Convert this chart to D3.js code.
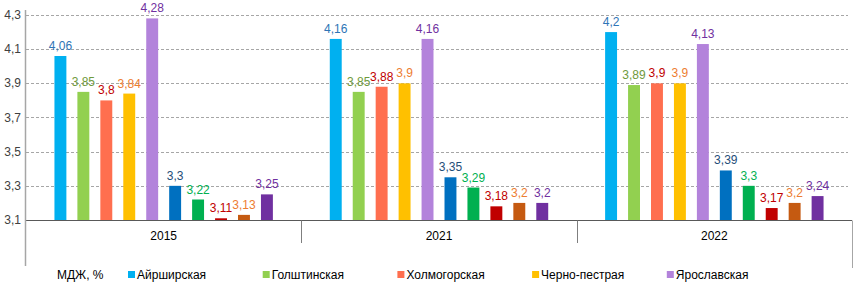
<!DOCTYPE html>
<html>
<head>
<meta charset="utf-8">
<script src="https://cdn.jsdelivr.net/npm/d3@7"></script>
<style>
  body { margin: 0; background: #fff; }
  svg { display: block; font-family: "Liberation Sans Narrow", "Liberation Sans", Arial, sans-serif; }
</style>
</head>
<body>
<div id="chart"></div>
<script>
// years on the x axis
const years = ['2015', '2021', '2022']

// breeds (legend)
const breeds = ['Айрширская', 'Голштинская', 'Холмогорская', 'Черно-пестрая', 'Ярославская']

// fat content, % (МДЖ) by year, breed order as above
const fat = [
    [4.06, 3.85, 3.8, 3.84, 4.28],
    [4.16, 3.85, 3.88, 3.9, 4.16],
    [4.2, 3.89, 3.9, 3.9, 4.13]
]

// protein content, % (second set of bars) by year
const protein = [
    [3.3, 3.22, 3.11, 3.13, 3.25],
    [3.35, 3.29, 3.18, 3.2, 3.2],
    [3.39, 3.3, 3.17, 3.2, 3.24]
]

const yTicks = [3.1, 3.3, 3.5, 3.7, 3.9, 4.1, 4.3]

const fatColors = ['#00b0f0', '#92d050', '#ff6f4f', '#ffc000', '#b383db']
const proteinColors = ['#0070c0', '#00b050', '#c00000', '#c55a11', '#7030a0']
const fatLabelColors = ['#2e75b6', '#6f9a3c', '#c00000', '#ed7d31', '#7030a0']
const proteinLabelColors = ['#1f4e79', '#00b050', '#c00000', '#ed7d31', '#7030a0']

const width = 854, height = 284
const margin = {left: 26, right: 2, top: 15, bottom: 64}

const svg = d3.select('#chart').append('svg')
    .attr('width', width)
    .attr('height', height)

const y = d3.scaleLinear()
    .domain([3.1, 4.3])
    .range([height - margin.bottom, margin.top])

const x0 = d3.scaleBand()
    .domain(years)
    .range([margin.left, width - margin.right])

// 10 bars per year: fat series then protein series
const seriesKeys = d3.range(10)
const x1 = d3.scaleBand()
    .domain(seriesKeys)
    .range([0, x0.bandwidth()])
    .paddingInner(0.48)
    .paddingOuter(1.24)

const fmt = v => String(v).replace('.', ',')

//-------------------------------------------------------------
// grid
svg.append('g')
    .selectAll('line')
    .data(yTicks.filter(d => d > 3.1))
    .enter()
        .append('line')
        .attr('x1', margin.left)
        .attr('x2', width - margin.right - 4)
        .attr('y1', d => Math.round(y(d)) + 0.5)
        .attr('y2', d => Math.round(y(d)) + 0.5)
        .style('stroke', '#a6a6a6')
        .style('stroke-dasharray', '3,2')

// y tick labels
svg.append('g')
    .selectAll('text')
    .data(yTicks)
    .enter()
        .append('text')
        .attr('x', 21)
        .attr('y', d => y(d) + 4)
        .attr('text-anchor', 'end')
        .style('font-size', '12px')
        .style('fill', '#404040')
        .text(fmt)

//-------------------------------------------------------------
// bars
const rows = years.map((yr, i) => ({
    year: yr,
    values: fat[i].map((v, j) => ({k: j, v: v, fill: fatColors[j], lc: fatLabelColors[j]}))
        .concat(protein[i].map((v, j) => ({k: j + 5, v: v, fill: proteinColors[j], lc: proteinLabelColors[j]})))
}))

const groups = svg.append('g')
    .selectAll('g')
    .data(rows)
    .enter()
        .append('g')
        .attr('transform', d => `translate(${x0(d.year)},0)`)

groups.selectAll('rect')
    .data(d => d.values)
    .enter()
        .append('rect')
        .attr('x', d => x1(d.k))
        .attr('y', d => y(d.v))
        .attr('width', x1.bandwidth())
        .attr('height', d => y(3.1) - y(d.v))
        .style('fill', d => d.fill)

groups.selectAll('text')
    .data(d => d.values)
    .enter()
        .append('text')
        .attr('x', d => x1(d.k) + x1.bandwidth() / 2)
        .attr('y', d => y(d.v) - 6)
        .attr('text-anchor', 'middle')
        .style('font-size', '12px')
        .style('fill', d => d.lc)
        .text(d => fmt(d.v))

//-------------------------------------------------------------
// axes lines
const base = Math.round(y(3.1)) + 0.5

svg.append('line')
    .attr('x1', margin.left).attr('x2', width - margin.right)
    .attr('y1', base).attr('y2', base)
    .style('stroke', '#595959')

svg.append('line')
    .attr('x1', margin.left - 0.5).attr('x2', margin.left - 0.5)
    .attr('y1', 10).attr('y2', 266)
    .style('stroke', '#a6a6a6')
    .style('stroke-width', 1.5)

svg.append('line')
    .attr('x1', width - 1.5).attr('x2', width - 1.5)
    .attr('y1', base).attr('y2', 268)
    .style('stroke', '#a6a6a6')

svg.append('g')
    .selectAll('line')
    .data(years.slice(1))
    .enter()
        .append('line')
        .attr('x1', d => Math.round(x0(d)) + 0.5)
        .attr('x2', d => Math.round(x0(d)) + 0.5)
        .attr('y1', base)
        .attr('y2', 243)
        .style('stroke', '#7f7f7f')

svg.append('g')
    .selectAll('text')
    .data(years)
    .enter()
        .append('text')
        .attr('x', d => x0(d) + x0.bandwidth() / 2)
        .attr('y', 240)
        .attr('text-anchor', 'middle')
        .style('font-size', '12px')
        .style('fill', '#000')
        .text(d => d)

//-------------------------------------------------------------
// legend
const legend = svg.append('g')
    .attr('transform', 'translate(0, 279)')

legend.append('text')
    .attr('x', 57)
    .attr('y', 0)
    .style('font-size', '12px')
    .style('fill', '#000')
    .text('МДЖ, %')

const item = legend.selectAll('g.item')
    .data(breeds)
    .enter()
        .append('g')
        .attr('class', 'item')
        .attr('transform', (d, i) => `translate(${128 + i * 134.7}, 0)`)

item.append('rect')
    .attr('x', 0)
    .attr('y', -8)
    .attr('width', 7)
    .attr('height', 7)
    .style('fill', (d, i) => fatColors[i])

item.append('text')
    .attr('x', 9)
    .attr('y', 0)
    .style('font-size', '12px')
    .style('fill', '#000')
    .text(d => d)
</script>
</body>
</html>
